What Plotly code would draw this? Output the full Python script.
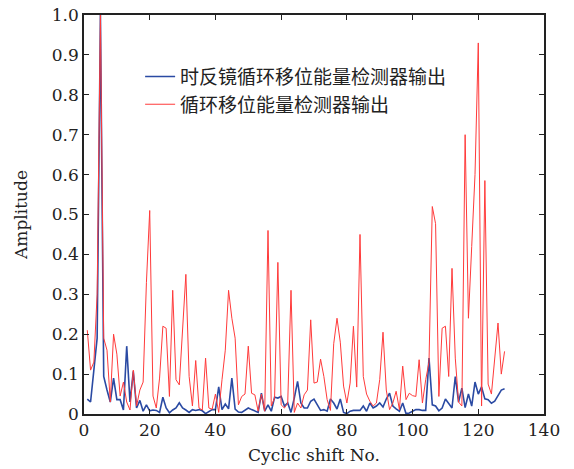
import plotly.graph_objects as go

shift_no = list(range(1, 129))

tr_mirror_output = [
    0.0375, 0.03, 0.11, 0.19, 1.0, 0.094, 0.06, 0.03, 0.09, 0.036,
    0.036, 0.01, 0.17, 0.03, 0.107, 0.015, 0.034, 0.007, 0.023, 0.008,
    0.01, 0.009, 0.004, 0.042, 0.015, 0.003, 0.01, 0.015, 0.028, 0.015,
    0.01, 0.004, 0.011, 0.009, 0.011, 0.008, 0.001, 0.007, 0.011, 0.011,
    0.068, 0.011, 0.025, 0.013, 0.09, 0.012, 0.005, 0.004, 0.009, 0.015,
    0.011, 0.007, 0.004, 0.052, 0.007, 0.023, 0.007, 0.042, 0.04, 0.044,
    0.02, 0.0275, 0.004, 0.04, 0.082, 0.0275, 0.015, 0.015, 0.032, 0.0375,
    0.024, 0.009, 0.011, 0.007, 0.0375, 0.0275, 0.0125, 0.0375, 0.004, 0.001,
    0.007, 0.009, 0.009, 0.009, 0.02, 0.007, 0.0275, 0.015, 0.02, 0.0275,
    0.0175, 0.0375, 0.052, 0.02, 0.013, 0.007, 0.0275, 0.001, 0.0025, 0.007,
    0.011, 0.011, 0.009, 0.009, 0.14, 0.023, 0.02, 0.008, 0.015, 0.0375,
    0.0275, 0.015, 0.094, 0.03, 0.065, 0.016, 0.05, 0.02, 0.08, 0.05,
    0.068, 0.038, 0.036, 0.027, 0.032, 0.048, 0.06, 0.063,
]

shift_energy_output = [
    0.21, 0.11, 0.13, 0.30, 1.0, 0.19, 0.16, 0.03, 0.20, 0.15,
    0.045, 0.08, 0.03, 0.01, 0.11, 0.02, 0.06, 0.08, 0.33, 0.51,
    0.045, 0.015, 0.09, 0.22, 0.215, 0.044, 0.31, 0.086, 0.073, 0.2,
    0.35, 0.094, 0.02, 0.134, 0.015, 0.01, 0.14, 0.015, 0.012, 0.05,
    0.004, 0.086, 0.16, 0.31, 0.24, 0.19, 0.023, 0.044, 0.05, 0.17,
    0.052, 0.048, 0.007, 0.05, 0.007, 0.46, 0.02, 0.04, 0.38, 0.023,
    0.015, 0.0275, 0.31, 0.004, 0.0275, 0.015, 0.048, 0.06, 0.236, 0.0775,
    0.08, 0.1375, 0.094, 0.036, 0.009, 0.176, 0.24, 0.18, 0.07, 0.0275,
    0.0775, 0.22, 0.0675, 0.45, 0.094, 0.05, 0.032, 0.02, 0.0275, 0.086,
    0.205, 0.06, 0.011, 0.0275, 0.057, 0.011, 0.12, 0.036, 0.052, 0.046,
    0.044, 0.136, 0.0275, 0.086, 0.13, 0.52, 0.477, 0.044, 0.215, 0.22,
    0.094, 0.365, 0.14, 0.03, 0.02, 0.70, 0.24, 0.42, 0.6, 0.93,
    0.02, 0.585, 0.075, 0.05, 0.136, 0.228, 0.1, 0.157,
]

series_names = ["时反镜循环移位能量检测器输出", "循环移位能量检测器输出"]

x_ticks = [0, 20, 40, 60, 80, 100, 120, 140]
y_ticks = [0, 0.1, 0.2, 0.3, 0.4, 0.5, 0.6, 0.7, 0.8, 0.9, 1.0]
y_tick_text = ["0", "0.1", "0.2", "0.3", "0.4", "0.5", "0.6", "0.7", "0.8", "0.9", "1.0"]

serif = "DejaVu Serif, Noto Sans CJK SC"

fig = go.Figure()
fig.add_trace(go.Scatter(x=shift_no, y=tr_mirror_output, mode="lines",
                         name=series_names[0],
                         line=dict(color="#2a4aa3", width=1.6)))
fig.add_trace(go.Scatter(x=shift_no, y=shift_energy_output, mode="lines",
                         name=series_names[1],
                         line=dict(color="#ff3a3a", width=1)))

axis_common = dict(showline=True, linecolor="#222", linewidth=1.5, mirror="ticks",
                   ticks="inside", ticklen=5, tickcolor="#222", tickwidth=1,
                   showgrid=False, zeroline=False,
                   tickfont=dict(family=serif, size=17, color="#222"))

fig.update_xaxes(range=[0, 140], tickvals=x_ticks,
                 title=dict(text="Cyclic shift No.", font=dict(family=serif, size=17, color="#222"), standoff=10),
                 **axis_common)
fig.update_yaxes(range=[0, 1.0], tickvals=y_ticks, ticktext=y_tick_text,
                 title=dict(text="Amplitude", font=dict(family=serif, size=17, color="#222"), standoff=20),
                 **axis_common)

fig.update_layout(
    width=574, height=469,
    margin=dict(l=84, r=30, t=15, b=55, autoexpand=False),
    paper_bgcolor="white", plot_bgcolor="white",
    showlegend=True,
    legend=dict(x=0.122, y=0.893, xanchor="left", yanchor="top",
                bgcolor="rgba(0,0,0,0)", borderwidth=0,
                font=dict(family=serif, size=19, color="#222")),
)

fig.write_html("out.html")
